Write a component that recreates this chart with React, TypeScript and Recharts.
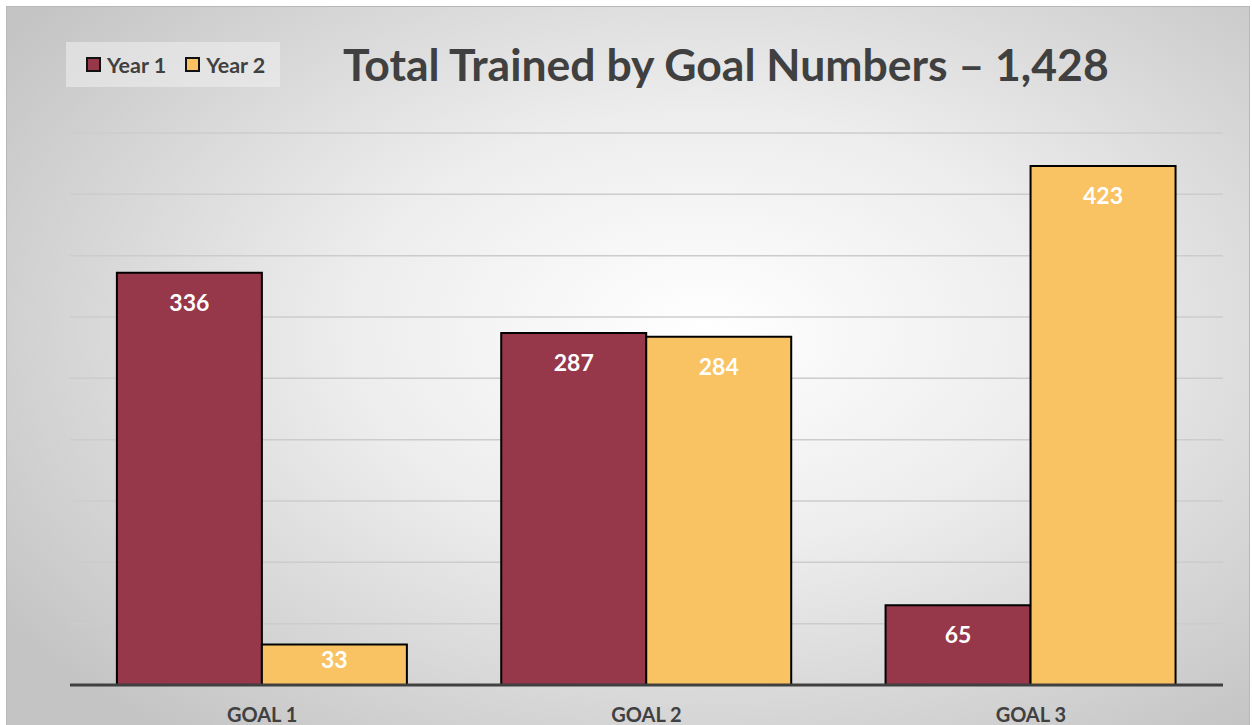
import React from 'react';
import { BarChart, Bar, XAxis, YAxis, CartesianGrid, LabelList } from 'recharts';

const goals = ['GOAL 1', 'GOAL 2', 'GOAL 3'];
const year1 = [336, 287, 65];
const year2 = [33, 284, 423];
const yTicks = [0, 50, 100, 150, 200, 250, 300, 350, 400, 450];

const data = goals.map((goal, i) => ({ goal, year1: year1[i], year2: year2[i] }));

const FONT = 'Lato, "Open Sans", sans-serif';
const MAROON = '#96374A';
const GOLD = '#F9C262';
const TEXT = '#404040';

const renderValue = (props: any) => {
	const { x, y, width, height, value } = props;
	const dy = Math.min(29, height / 2 - 6);
	return (
		<text
			x={x + width / 2}
			y={y + dy}
			textAnchor="middle"
			dominantBaseline="central"
			fill="#fff"
			fontFamily={FONT}
			fontWeight={700}
			fontSize={23}
		>
			{value}
		</text>
	);
};

const LegendSwatch = ({ color, label }: { color: string; label: string }) => (
	<span style={{ display: 'inline-flex', alignItems: 'center', marginRight: 19, flexShrink: 0, whiteSpace: 'nowrap' }}>
		<span style={{ width: 11, height: 11, background: color, border: '2px solid #111', marginRight: 6, flexShrink: 0 }} />
		<span>{label}</span>
	</span>
);

export default function App() {
	return (
		<div style={{ position: 'fixed', left: 0, top: 0, width: 1252, height: 725, background: '#fff', overflow: 'hidden' }}>
			<div
				style={{
					position: 'absolute',
					left: 6,
					top: 6,
					width: 1244,
					height: 722,
					boxSizing: 'border-box',
					border: '1px solid #b8b8b8',
					background: 'radial-gradient(ellipse 68% 72% at 56% 45%, #ffffff 0%, #ededed 42%, #c4c4c4 100%)',
				}}
			/>
			<div
				style={{
					position: 'absolute',
					left: 66,
					top: 42,
					width: 214,
					height: 45,
					background: 'rgba(240,240,240,0.55)',
					display: 'flex',
					alignItems: 'center',
					paddingLeft: 20,
					boxSizing: 'border-box',
					whiteSpace: 'nowrap',
					fontFamily: FONT,
					fontWeight: 700,
					fontSize: 21.5,
					color: TEXT,
				}}
			>
				<LegendSwatch color={MAROON} label="Year 1" />
				<LegendSwatch color={GOLD} label="Year 2" />
			</div>
			<div
				style={{
					position: 'absolute',
					left: 343,
					top: 37,
					width: 764,
					textAlign: 'center',
					whiteSpace: 'nowrap',
					fontFamily: FONT,
					fontWeight: 700,
					fontSize: 44.5,
					color: TEXT,
				}}
			>
				Total Trained by Goal Numbers – 1,428
			</div>
			<div style={{ position: 'absolute', left: 0, top: 0 }}>
				<BarChart
					width={1252}
					height={725}
					data={data}
					margin={{ top: 133, right: 29, bottom: 10, left: 70 }}
					barCategoryGap="12.2%"
					barGap={0}
				>
					<CartesianGrid vertical={false} stroke="#cccccc" strokeWidth={1.5} />
					<YAxis hide domain={[0, 450]} ticks={yTicks} />
					<XAxis
						dataKey="goal"
						height={30}
						axisLine={{ stroke: TEXT, strokeWidth: 3 }}
						tickLine={false}
						tickMargin={17}
						tick={{ fill: TEXT, fontFamily: FONT, fontWeight: 700, fontSize: 20 }}
					/>
					<Bar dataKey="year1" fill={MAROON} stroke="#000" strokeWidth={2} isAnimationActive={false}>
						<LabelList dataKey="year1" content={renderValue} />
					</Bar>
					<Bar dataKey="year2" fill={GOLD} stroke="#000" strokeWidth={2} isAnimationActive={false}>
						<LabelList dataKey="year2" content={renderValue} />
					</Bar>
				</BarChart>
			</div>
		</div>
	);
}
